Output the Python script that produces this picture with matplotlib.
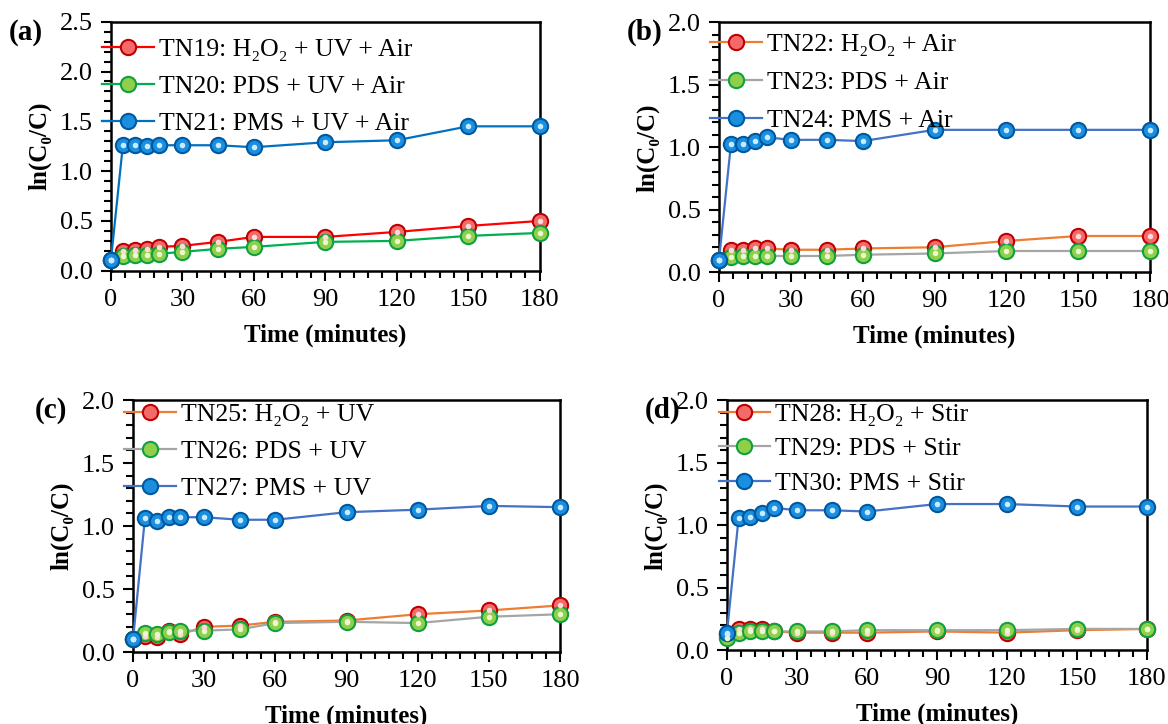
import matplotlib
matplotlib.use('Agg')
import matplotlib.pyplot as plt
from matplotlib.ticker import MultipleLocator

plt.rcParams['font.family'] = ['Liberation Serif', 'DejaVu Serif']

# Tempo (min)
tempo = [0, 5, 10, 15, 20, 30, 45, 60, 90, 120, 150, 180]

# (a) UV + Air
tn19 = [0.11, 0.20, 0.21, 0.22, 0.24, 0.25, 0.29, 0.34, 0.34, 0.39, 0.45, 0.50]
tn20 = [0.11, 0.15, 0.16, 0.16, 0.17, 0.19, 0.22, 0.24, 0.29, 0.30, 0.35, 0.38]
tn21 = [0.11, 1.26, 1.26, 1.25, 1.26, 1.26, 1.26, 1.24, 1.29, 1.31, 1.45, 1.45]

# (b) Air
tn22 = [0.10, 0.18, 0.18, 0.19, 0.19, 0.18, 0.18, 0.19, 0.20, 0.25, 0.29, 0.29]
tn23 = [0.10, 0.12, 0.13, 0.13, 0.13, 0.13, 0.13, 0.14, 0.15, 0.17, 0.17, 0.17]
tn24 = [0.10, 1.03, 1.03, 1.05, 1.08, 1.06, 1.06, 1.05, 1.14, 1.14, 1.14, 1.14]

# (c) UV
tn25 = [0.10, 0.13, 0.12, 0.17, 0.14, 0.20, 0.21, 0.24, 0.25, 0.30, 0.33, 0.37]
tn26 = [0.10, 0.15, 0.14, 0.16, 0.17, 0.17, 0.18, 0.23, 0.24, 0.23, 0.28, 0.30]
tn27 = [0.10, 1.06, 1.04, 1.07, 1.07, 1.07, 1.05, 1.05, 1.11, 1.13, 1.16, 1.15]

# (d) Stir
tn28 = [0.13, 0.17, 0.17, 0.17, 0.15, 0.14, 0.14, 0.14, 0.15, 0.14, 0.16, 0.17]
tn29 = [0.10, 0.14, 0.15, 0.15, 0.15, 0.15, 0.15, 0.16, 0.16, 0.16, 0.17, 0.17]
tn30 = [0.14, 1.06, 1.07, 1.10, 1.14, 1.12, 1.12, 1.11, 1.17, 1.17, 1.15, 1.15]

H2O2 = 'H\u2082O\u2082'

# letra, posição dos eixos, ymax, posição da letra, topo da legenda, espaçamento
paineis = [
    ('(a)', [0.095, 0.626, 0.367, 0.344], 2.5, (0.022, 0.955), 0.935, 0.55,
     [(tn19, f'TN19: {H2O2} + UV + Air', '#ff0000'),
      (tn20, 'TN20: PDS + UV + Air', '#00b050'),
      (tn21, 'TN21: PMS + UV + Air', '#0070c0')]),
    ('(b)', [0.6156, 0.624, 0.369, 0.345], 2.0, (0.552, 0.955), 0.958, 0.58,
     [(tn22, f'TN22: {H2O2} + Air', '#ed7d31'),
      (tn23, 'TN23: PDS + Air', '#a5a5a5'),
      (tn24, 'TN24: PMS + Air', '#4472c4')]),
    ('(c)', [0.1139, 0.0994, 0.3656, 0.348], 2.0, (0.044, 0.433), 0.99, 0.55,
     [(tn25, f'TN25: {H2O2} + UV', '#ed7d31'),
      (tn26, 'TN26: PDS + UV', '#a5a5a5'),
      (tn27, 'TN27: PMS + UV', '#4472c4')]),
    ('(d)', [0.6224, 0.102, 0.3596, 0.345], 2.0, (0.567, 0.433), 0.99, 0.45,
     [(tn28, f'TN28: {H2O2} + Stir', '#ed7d31'),
      (tn29, 'TN29: PDS + Stir', '#a5a5a5'),
      (tn30, 'TN30: PMS + Stir', '#4472c4')]),
]

# marcadores: vermelho, verde, azul (efeito de esfera)
marcadores = [('#f46a6a', '#c00000', '#ffd9d9'),
              ('#8fcf4a', '#10a040', '#e8f8d0'),
              ('#1a8fe0', '#0058a0', '#c8ecff')]

fig = plt.figure(figsize=(11.68, 7.24), dpi=100)

for letra, pos, ymax, pos_letra, topo_leg, esp_leg, series in paineis:
    ax = fig.add_axes(pos)
    for (y, rotulo, cor), (face, borda, brilho) in zip(series, marcadores):
        ax.plot(tempo, y, color=cor, lw=1.6, marker='o', ms=11,
                mfc=face, mec=borda, mew=1.5, label=rotulo, zorder=3,
                clip_on=False)
        ax.plot(tempo, y, ls='none', marker='o', ms=4, mfc=brilho,
                mec='none', zorder=4, clip_on=False)
    ax.set_xlim(0, 180)
    ax.set_ylim(0, ymax)
    ax.xaxis.set_major_locator(MultipleLocator(30))
    ax.xaxis.set_minor_locator(MultipleLocator(6))
    ax.yaxis.set_major_locator(MultipleLocator(0.5))
    ax.yaxis.set_minor_locator(MultipleLocator(0.1))
    ax.yaxis.set_major_formatter(plt.FormatStrFormatter('%.1f'))
    ax.tick_params(which='both', direction='out', top=False, right=False,
                   labelsize=19, width=1.5)
    ax.tick_params(which='major', length=7, pad=6)
    ax.tick_params(which='minor', length=5)
    for s in ax.spines.values():
        s.set_linewidth(1.8)
    ax.set_xlabel('Time (minutes)', fontsize=18, fontweight='bold', labelpad=9)
    ax.set_ylabel('ln(C\u2080/C)', fontsize=18, fontweight='bold', labelpad=6)
    ax.legend(loc='upper left', bbox_to_anchor=(-0.02, topo_leg), frameon=False,
              fontsize=18.5, handlelength=2.0, handletextpad=0.2,
              labelspacing=esp_leg, borderaxespad=0, borderpad=0)
    fig.text(pos_letra[0], pos_letra[1], letra, fontsize=21,
             fontweight='bold', ha='center', va='center')

fig.savefig('out.png', dpi=100)
